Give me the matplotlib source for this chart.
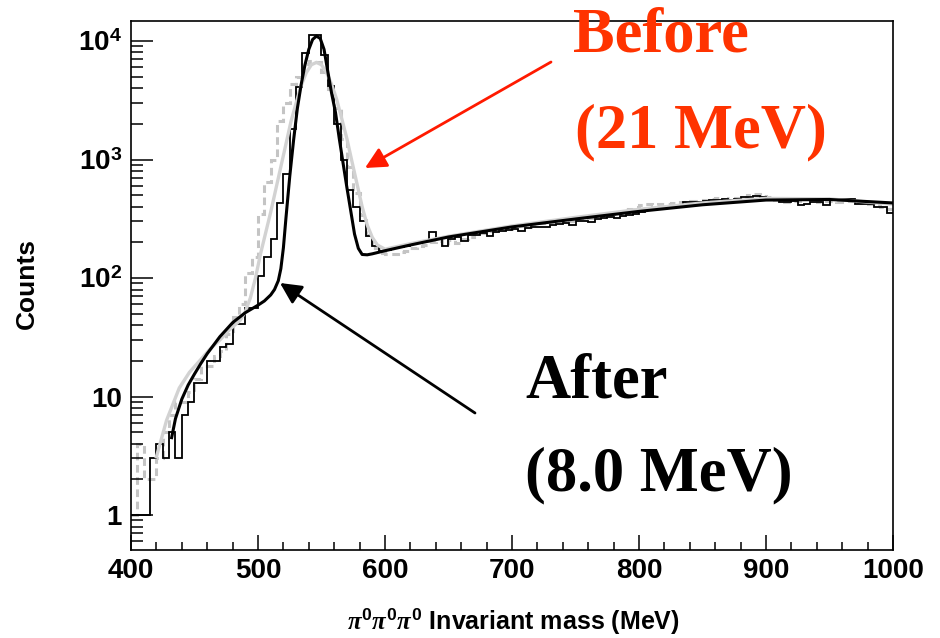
"""
pi0 pi0 pi0 invariant mass: eta peak before / after the energy calibration.
ROOT-style log histogram, redrawn with matplotlib.
"""

import matplotlib
matplotlib.use('Agg')
import matplotlib.pyplot as plt
from matplotlib.ticker import FixedLocator, FixedFormatter
import numpy as np

# === DATA ===
# 5 MeV bins from 400 to 1000 MeV
BIN_LO, BIN_HI, BIN_W = 400, 1000, 5

# "After" histogram (black solid), counts per bin
after_counts = [
    1, 1, 1, 3, 4, 3, 5, 3, 7, 9,                       # 400-450
    13, 13, 20, 20, 26, 28, 41, 41, 56, 56,             # 450-500
    105, 150, 215, 430, 750, 1800, 4100, 7900, 11200, 11300,   # 500-550
    7600, 4200, 2000, 990, 550, 400, 300, 225, 185, 170,       # 550-600
    172, 178, 182, 188, 192, 200, 205, 245, 212, 185,   # 600-650
    215, 220, 205, 230, 232, 238, 226, 245, 248, 252,   # 650-700
    258, 250, 262, 270, 272, 268, 282, 285, 290, 280,   # 700-750
    300, 305, 295, 312, 318, 325, 322, 335, 340, 350,   # 750-800
    360, 372, 380, 385, 400, 398, 405, 440, 435, 440,   # 800-850
    445, 455, 455, 460, 458, 462, 485, 485, 490, 480,   # 850-900
    470, 468, 440, 440, 445, 414, 420, 440, 440, 414,   # 900-950
    465, 465, 468, 465, 425, 425, 420, 400, 400, 352,   # 950-1000
]

# "Before" histogram (light grey dashed), counts per bin
before_counts = [
    1, 4, 2, 2, 3, 5, 7, 9, 9, 11,                      # 400-450
    14, 18, 18, 22, 24, 34, 47, 60, 110, 150,           # 450-500
    350, 650, 1000, 2100, 3000, 4300, 5000, 6400, 6800, 6700,  # 500-550
    5500, 3900, 2700, 1500, 870, 520, 340, 230, 180, 162,      # 550-600
    160, 158, 165, 170, 178, 185, 190, 200, 205, 190,   # 600-650
    210, 198, 215, 222, 235, 240, 248, 250, 262, 258,   # 650-700
    270, 275, 268, 282, 290, 300, 298, 305, 312, 300,   # 700-750
    320, 325, 318, 335, 340, 345, 355, 360, 380, 400,   # 750-800
    410, 420, 415, 425, 420, 430, 435, 440, 450, 445,   # 800-850
    455, 460, 470, 465, 475, 470, 485, 500, 515, 490,   # 850-900
    480, 455, 440, 435, 450, 445, 460, 455, 440, 445,   # 900-950
    450, 440, 455, 445, 435, 430, 420, 410, 400, 385,   # 950-1000
]

# fitted curves, sampled by eye
fit_after_mass = [432, 435, 440, 445, 450, 455, 460, 470, 480, 490, 500, 505,
                  510, 513, 516, 518, 520, 522, 525, 528, 531, 534, 537, 540,
                  543, 546, 549, 552, 555, 558, 561, 564, 567, 570, 573, 576,
                  579, 582, 586, 590, 600, 620, 650, 700, 750, 800, 850, 900,
                  950, 1000]
fit_after_val = [4.5, 6.5, 9.5, 12.5, 15.5, 19, 23, 32, 42, 51, 59, 64,
                 72, 80, 95, 120, 180, 320, 720, 1450, 2700, 4300, 6300, 8500,
                 10300, 11000, 10500, 8500, 5500, 3600, 2500, 1500, 930, 580, 370, 235,
                 178, 158, 157, 160, 170, 190, 222, 270, 315, 365, 415, 455,
                 460, 430]

fit_before_mass = [420, 428, 438, 446, 454, 462, 470, 478, 486, 490, 494, 498,
                   502, 506, 510, 514, 518, 522, 526, 530, 534, 538, 542, 546,
                   550, 554, 558, 562, 566, 570, 574, 578, 582, 586, 590, 594,
                   600, 620, 650, 700, 750, 800, 850, 900, 950, 1000]
fit_before_val = [3.1, 6.3, 11.8, 16, 20, 25, 30, 37, 44, 52, 68, 100,
                  160, 240, 360, 560, 870, 1350, 2100, 3000, 4200, 5400, 6300, 6600,
                  6300, 5400, 4300, 3200, 2200, 1500, 960, 620, 400, 280, 220, 190,
                  175, 195, 225, 275, 325, 380, 430, 470, 465, 420]

# y axis ticks (ROOT style)
y_major = [1, 10, 100, 1000, 10000]
y_major_labels = ['1', '10', r'$10^{2}$', r'$10^{3}$', r'$10^{4}$']

# === STYLE ===
RED_TEXT = '#ff3300'
RED_ARROW = '#ff1a00'
GREY_HIST = '#c4c4c4'
GREY_FIT = '#d2d2d2'

plt.rcParams.update({
    'font.family': ['Liberation Sans', 'DejaVu Sans'],
    'font.weight': 'bold',
    'mathtext.fontset': 'custom',
    'mathtext.rm': 'Liberation Sans:bold',
    'mathtext.bf': 'Liberation Sans:bold',
    'mathtext.it': 'Liberation Serif:italic',
    'axes.linewidth': 1.2,
})

fig = plt.figure(figsize=(9.4, 6.38), dpi=100, facecolor='white')
ax = fig.add_axes([131 / 940, 88 / 638, 762 / 940, 529 / 638])

edges = np.arange(BIN_LO, BIN_HI + BIN_W, BIN_W)

ax.stairs(before_counts, edges, baseline=None, color=GREY_HIST, lw=2.2,
          linestyle=(0, (2.5, 1.5)))
ax.plot(fit_before_mass, fit_before_val, color=GREY_FIT, lw=2.4)
ax.stairs(after_counts, edges, baseline=None, color='black', lw=1.3)
ax.plot(fit_after_mass, fit_after_val, color='black', lw=2.2)

ax.set_yscale('log')
ax.set_xlim(BIN_LO, BIN_HI)
ax.set_ylim(0.507, 14750)

# ticks: inside, only on left / bottom
ax.set_xticks(np.arange(400, 1001, 100))
ax.set_xticks(np.arange(400, 1001, 20), minor=True)
ax.yaxis.set_major_locator(FixedLocator(y_major))
ax.yaxis.set_major_formatter(FixedFormatter(y_major_labels))
y_minor = [m * d for d in [0.1, 1, 10, 100, 1000] for m in range(2, 10)]
ax.yaxis.set_minor_locator(FixedLocator(y_minor))
ax.yaxis.set_minor_formatter(FixedFormatter([''] * len(y_minor)))

ax.tick_params(axis='x', which='major', direction='in', length=11, width=1.1,
               labelsize=20, pad=6, top=False)
ax.tick_params(axis='x', which='minor', direction='in', length=5.5, width=1.1,
               top=False)
ax.tick_params(axis='y', which='major', direction='in', length=16, width=1.1,
               labelsize=20, pad=6.5, right=False)
ax.tick_params(axis='y', which='minor', direction='in', length=8.5, width=1.1,
               right=False)
for lab in ax.get_xticklabels() + ax.get_yticklabels():
    lab.set_fontweight('bold')

fig.text(27 / 940, 0.555, 'Counts', rotation=90, ha='center', va='center',
         fontsize=19, fontweight='bold')
fig.text(513 / 940, 0.027, r'$\pi^{0}\pi^{0}\pi^{0}$ Invariant mass (MeV)',
         ha='center', va='center', fontsize=18, fontweight='bold')

# annotations
serif = ['Liberation Serif', 'DejaVu Serif']
fig.text(573 / 940, (638 - 52) / 638, 'Before', color=RED_TEXT, family=serif,
         fontsize=45, fontweight='bold', va='baseline', ha='left')
fig.text(575 / 940, (638 - 147) / 638, '(21 MeV)', color=RED_TEXT, family=serif,
         fontsize=45, fontweight='bold', va='baseline', ha='left')
fig.text(525 / 940, (638 - 398) / 638, 'After', color='black', family=serif,
         fontsize=45, fontweight='bold', va='baseline', ha='left')
fig.text(525 / 940, (638 - 490) / 638, '(8.0 MeV)', color='black', family=serif,
         fontsize=45, fontweight='bold', va='baseline', ha='left')

ax.annotate('', xy=(365, 638 - 168), xycoords='figure pixels',
            xytext=(551, 638 - 62), textcoords='figure pixels',
            arrowprops=dict(arrowstyle='-|>', color=RED_ARROW, lw=2,
                            mutation_scale=32, shrinkA=0, shrinkB=0))
ax.annotate('', xy=(280, 638 - 283), xycoords='figure pixels',
            xytext=(475, 638 - 413), textcoords='figure pixels',
            arrowprops=dict(arrowstyle='-|>', color='black', lw=2,
                            mutation_scale=32, shrinkA=0, shrinkB=0))

fig.savefig('out.png', dpi=100, facecolor='white')
plt.close(fig)
